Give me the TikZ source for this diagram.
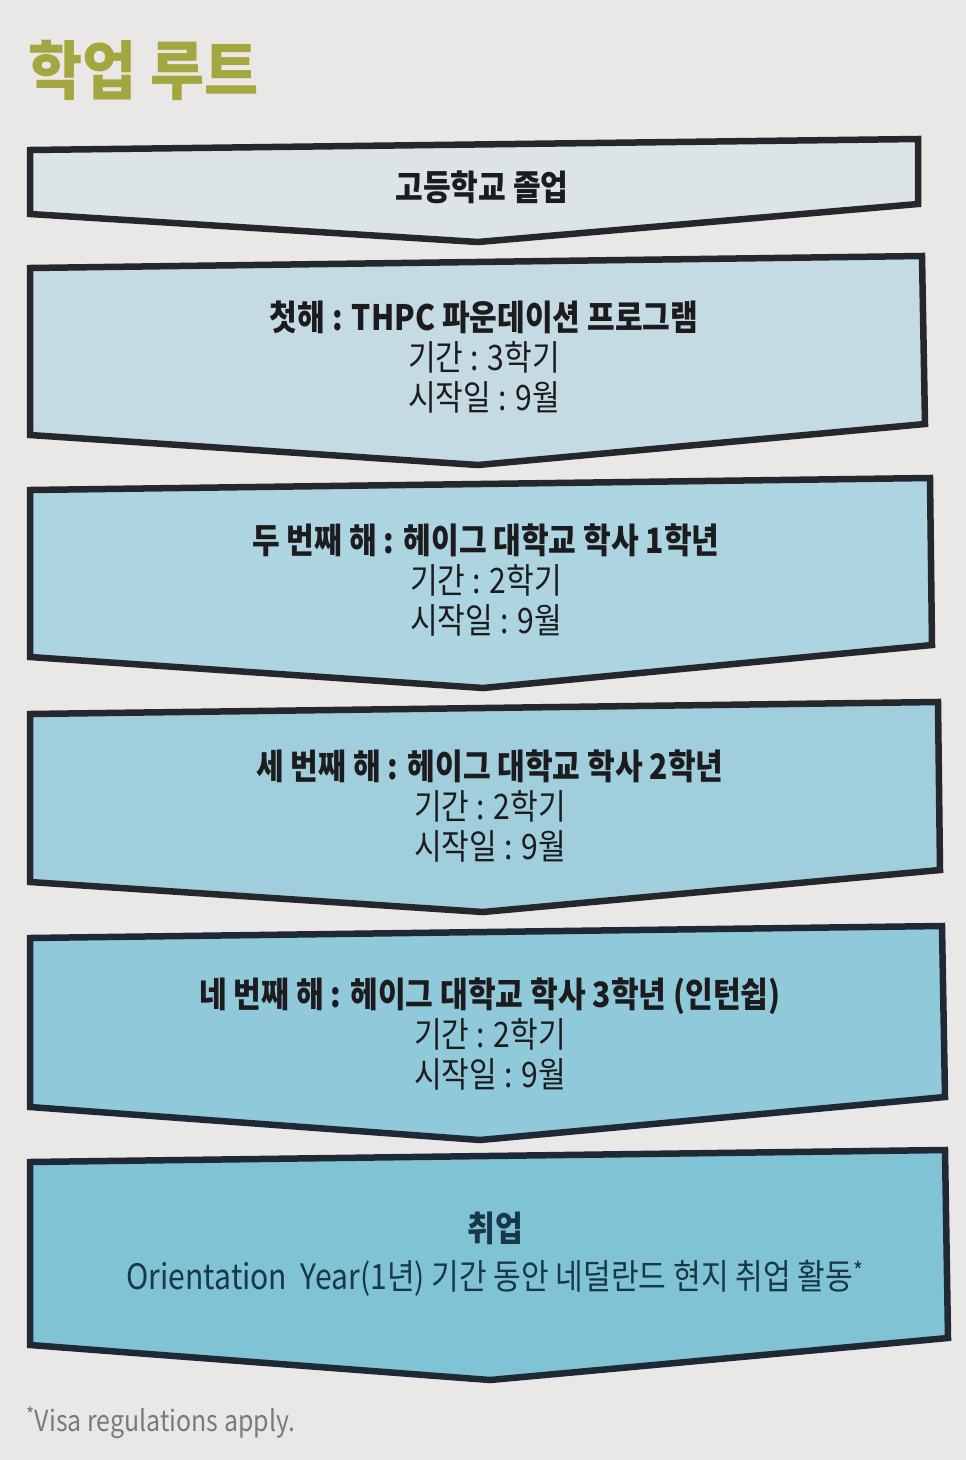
\documentclass[tikz,border=0pt]{standalone}
\usepackage{fontspec}
\newfontfamily\kr{Noto Sans CJK KR}[FakeStretch=0.86]
\newfontfamily\krt{Noto Sans CJK KR}[FakeStretch=0.92]
\definecolor{bgc}{HTML}{E9E8E6}
\definecolor{olive}{HTML}{A4A63F}
\definecolor{edgec}{HTML}{26272D}
\definecolor{edgeb}{HTML}{1F2936}
\definecolor{fa}{HTML}{DCE4E8}
\definecolor{fb}{HTML}{C5DBE4}
\definecolor{fc}{HTML}{ADD4E1}
\definecolor{fd}{HTML}{A0CEDD}
\definecolor{fe}{HTML}{90C9DA}
\definecolor{ff}{HTML}{80C3D5}
\definecolor{txt}{HTML}{1C1C1E}
\definecolor{txtb}{HTML}{173848}
\definecolor{footc}{HTML}{7A7A7C}
\tikzset{
  chev/.style={draw=edgec, line width=6.5pt, line join=miter},
  label/.style={align=center, text=txt, font=\kr\fontsize{35}{40}\selectfont, inner sep=0pt},
}
\begin{document}
\begin{tikzpicture}[x=1pt,y=-1pt]
\fill[bgc] (0,0) rectangle (966,1460);
\useasboundingbox (0,0) rectangle (966,1460);
% title
\node[anchor=west, text=olive, font=\krt\bfseries\fontsize{64}{70}\selectfont, inner sep=0pt] (title) at (28,70) {학업 루트};
% chevrons
\draw[chev, fill=fa] (30,150) -- (918,139) -- (918,204) -- (478,242) -- (30,214) -- cycle;
\draw[chev, fill=fb] (30,268) -- (922,256) -- (925,424) -- (478,465) -- (30,435) -- cycle;
\draw[chev, fill=fc] (30,490) -- (930,478) -- (932,645) -- (483,688) -- (30,657) -- cycle;
\draw[chev, fill=fd] (30,714) -- (938,702) -- (940,870) -- (483,912) -- (30,882) -- cycle;
\draw[chev, draw=edgeb, fill=fe] (30,938) -- (942,926) -- (945,1097) -- (480,1140) -- (30,1107) -- cycle;
\draw[chev, draw=edgeb, fill=ff] (30,1162) -- (945,1150) -- (948,1338) -- (490,1380) -- (30,1345) -- cycle;
% texts
\node[label] (n1) at (482,187) {\bfseries 고등학교 졸업};
\node[label] (n2) at (484,357) {\bfseries 첫해 : THPC 파운데이션 프로그램\\ 기간 : 3학기\\ 시작일 : 9월};
\node[label] (n3) at (486,580) {\bfseries 두 번째 해 : 헤이그 대학교 학사 1학년\\ 기간 : 2학기\\ 시작일 : 9월};
\node[label] (n4) at (490,806) {\bfseries 세 번째 해 : 헤이그 대학교 학사 2학년\\ 기간 : 2학기\\ 시작일 : 9월};
\node[label] (n5) at (490,1034) {\bfseries 네 번째 해 : 헤이그 대학교 학사 3학년 (인턴쉽)\\ 기간 : 2학기\\ 시작일 : 9월};
\node[label, text=txtb] (n6) at (495,1254) {\bfseries 취업\\[8pt] Orientation~~Year(1년) 기간 동안 네덜란드 현지 취업 활동\textsuperscript{*}};
% footnote
\node[anchor=west, text=footc, font=\kr\fontsize{29}{32}\selectfont, inner sep=0pt] (foot) at (26,1423) {\textsuperscript{*}Visa regulations apply.};
\end{tikzpicture}
\end{document}
